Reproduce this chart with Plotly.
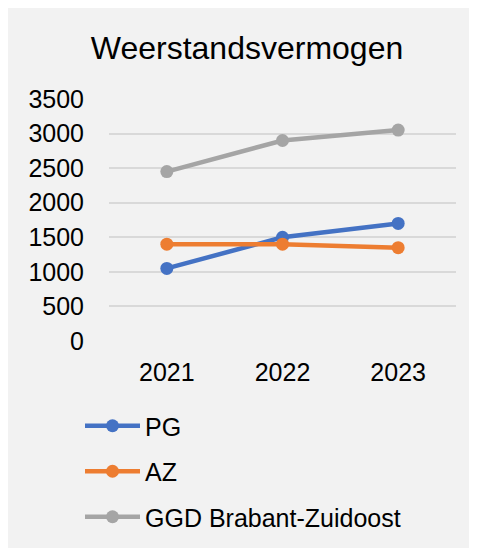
import plotly.graph_objects as go

years = ["2021", "2022", "2023"]
pg = [1050, 1500, 1700]
az = [1400, 1400, 1350]
ggd = [2450, 2900, 3050]
names = ["PG", "AZ", "GGD Brabant-Zuidoost"]
colors = ["#4472C4", "#ED7D31", "#A5A5A5"]
y_ticks = [0, 500, 1000, 1500, 2000, 2500, 3000, 3500]

W, H = 477, 548
L, R, T, B = 101, 29, 91, 215
pw, ph = W - L - R, H - T - B

fig = go.Figure()
for i, (name, vals) in enumerate(zip(names, [pg, az, ggd])):
    fig.add_trace(go.Scatter(
        x=years, y=vals, name=name, mode="lines+markers",
        line=dict(color=colors[i], width=4.5),
        marker=dict(color=colors[i], size=13),
        legendgroup=f"g{i}",
    ))

fig.update_layout(
    width=W, height=H,
    margin=dict(l=L, r=R, t=T, b=B, pad=0, autoexpand=False),
    paper_bgcolor="#F2F2F2", plot_bgcolor="#F2F2F2",
    font=dict(family="Liberation Sans, Arial, sans-serif", color="black", size=25),
    title=dict(text="Weerstandsvermogen", x=239 / W, xanchor="center",
               y=1 - 40 / H, yanchor="middle", xref="container", yref="container",
               font=dict(size=32)),
    xaxis=dict(type="category", range=[-0.5, 2.5], showgrid=False, zeroline=False,
               showline=False, ticks="", tickfont=dict(size=25), ticklabelstandoff=14),
    yaxis=dict(range=[0, 3500], tickvals=y_ticks, showgrid=True, gridcolor="#D9D9D9",
               gridwidth=1.5, zeroline=False, showline=False, ticks="",
               tickfont=dict(size=25), ticklabelstandoff=24),
    legend=dict(x=(72 - L) / pw, xanchor="left", y=-(395 - T - ph) / ph, yanchor="top",
                orientation="v", traceorder="grouped", tracegroupgap=10,
                bgcolor="rgba(0,0,0,0)", font=dict(size=25), itemwidth=55),
    showlegend=True,
)

fig.write_html("out.html", config={"displayModeBar": False})
